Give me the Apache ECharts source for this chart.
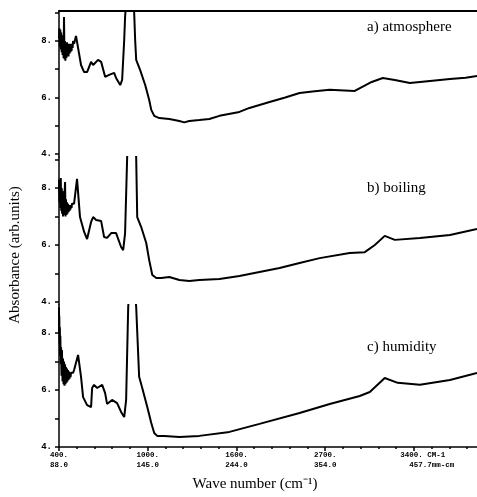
<!DOCTYPE html>
<html>
<head>
<meta charset="utf-8">
<script src="https://cdn.jsdelivr.net/npm/echarts@6/dist/echarts.min.js"></script>
<style>
html, body { margin: 0; padding: 0; background: #fff; }
#chart { width: 477px; height: 497px; }
</style>
</head>
<body>
<div id="chart"></div>
<script>
// [wave number, absorbance]
const atmosphere = [
  [400, 8.1], [403, 8.45], [406, 7.8], [409, 8.4], [412, 7.7], [415, 8.3], [418, 7.6], [421, 8.2],
  [424, 7.5], [427, 8.1], [431, 7.4], [434, 8.85], [437, 7.35], [440, 8.0], [443, 7.3], [447, 7.9],
  [450, 7.4], [454, 7.95], [457, 7.5], [461, 7.9], [464, 7.45], [468, 7.85], [471, 7.55], [475, 7.9],
  [478, 7.6], [481, 7.85], [485, 7.65], [488, 7.9], [492, 7.75], [495, 8.0], [502, 7.9],
  [515, 8.18], [549, 7.15], [570, 6.9], [590, 6.9], [617, 7.26], [631, 7.15], [664, 7.33], [685, 7.26],
  [712, 6.73], [739, 6.8], [773, 6.87], [786, 6.69], [814, 6.44], [827, 6.62], [841, 8.04], [847, 8.85],
  [875, 11], [908, 9.06], [915, 8.04], [922, 7.33], [949, 6.97], [983, 6.44], [1010, 5.91], [1024, 5.56],
  [1044, 5.35], [1078, 5.27], [1146, 5.24], [1214, 5.17], [1247, 5.12], [1281, 5.17], [1349, 5.2],
  [1417, 5.24], [1485, 5.35], [1620, 5.49], [1688, 5.63], [1824, 5.84], [1930, 6.0], [2027, 6.16],
  [2130, 6.22], [2231, 6.27], [2330, 6.25], [2400, 6.23], [2448, 6.37], [2515, 6.55], [2590, 6.69],
  [2671, 6.62], [2773, 6.51], [2909, 6.58], [3044, 6.65], [3150, 6.7], [3227, 6.76]
];
const boiling = [
  [400, 8.3], [403, 7.5], [406, 8.2], [409, 7.3], [412, 8.35], [415, 7.2], [418, 8.0], [421, 7.1],
  [424, 7.9], [427, 7.0], [431, 7.8], [434, 7.05], [437, 7.7], [441, 8.21], [444, 7.0], [447, 7.6],
  [451, 7.05], [454, 7.5], [457, 7.1], [461, 7.45], [464, 7.15], [468, 7.4], [471, 7.2], [475, 7.4],
  [478, 7.25], [481, 7.4], [485, 7.3], [488, 7.45], [495, 7.5], [502, 7.45],
  [522, 8.32], [542, 6.98], [570, 6.46], [590, 6.21], [603, 6.18], [617, 6.81], [631, 6.98], [651, 6.88],
  [685, 6.84], [705, 6.28], [725, 6.25], [753, 6.42], [786, 6.42], [820, 5.93], [834, 5.82], [847, 6.42],
  [861, 9.09], [888, 11], [922, 9.09], [929, 6.98], [956, 6.63], [990, 6.07], [1010, 5.47], [1031, 4.95],
  [1058, 4.84], [1092, 4.84], [1146, 4.88], [1214, 4.77], [1281, 4.74], [1349, 4.77], [1485, 4.81],
  [1620, 4.91], [1756, 5.05], [1892, 5.19], [2027, 5.37], [2163, 5.54], [2366, 5.72], [2468, 5.75],
  [2536, 6.0], [2603, 6.32], [2671, 6.18], [2841, 6.25], [3044, 6.35], [3227, 6.56]
];
const humidity = [
  [400, 8.9], [401, 8.0], [402, 8.6], [404, 7.6], [406, 8.2], [407, 7.2], [409, 7.9], [412, 6.9],
  [414, 7.5], [417, 6.5], [420, 7.4], [424, 6.3], [427, 7.1], [431, 6.2], [434, 7.0], [437, 6.15],
  [441, 6.9], [444, 6.2], [447, 6.8], [451, 6.25], [454, 6.75], [457, 6.3], [461, 6.7], [464, 6.35],
  [468, 6.65], [471, 6.4], [475, 6.6], [478, 6.45], [481, 6.6], [488, 6.55], [495, 6.6], [502, 6.7],
  [529, 7.23], [549, 6.46], [563, 5.75], [590, 5.47], [617, 5.4], [624, 6.07], [637, 6.18],
  [658, 6.07], [692, 6.18], [712, 5.89], [725, 5.51], [759, 5.65], [793, 5.54], [820, 5.23], [841, 5.05],
  [854, 5.65], [868, 8.91], [895, 11], [922, 8.91], [942, 6.46], [963, 6.07], [997, 5.4], [1024, 4.84],
  [1044, 4.49], [1064, 4.39], [1112, 4.39], [1214, 4.35], [1349, 4.39], [1553, 4.53], [1756, 4.81],
  [2027, 5.19], [2231, 5.51], [2434, 5.79], [2502, 5.93], [2603, 6.42], [2691, 6.25], [2841, 6.18],
  [3044, 6.35], [3227, 6.6]
];

const panelNames = ['a) atmosphere', 'b) boiling', 'c) humidity'];
const xTicks = [400, 1000, 1600, 2200, 2800];
const xTickTop = ['400.', '1000.', '1600.', '2700.', '    3400. CM-1'];
const xTickBottom = ['88.0', '145.0', '244.0', '354.0', '        457.7mm-cm'];
const yTicks = [4, 5, 6, 7, 8, 9];
const yLabels = [4, 6, 8];
const yRanges = [[3.894, 9.06], [3.895, 9.088], [4, 8.98]];

const spectra = [atmosphere, boiling, humidity];
const tops = [11, 157, 305];
const heights = [146, 148, 142];
const labelTops = [20, 181, 340];
const xMin = 400, xMax = 3227;

const chart = echarts.init(document.getElementById('chart'));

const grids = tops.map((t, i) => ({ left: 59, right: 0, top: t, height: heights[i], outerBoundsMode: 'none' }));

const xAxes = spectra.map((s, i) => ({
  type: 'value',
  gridIndex: i,
  min: xMin,
  max: xMax,
  interval: 600,
  show: i === 2,
  axisLine: { lineStyle: { color: '#000', width: 1.5 } },
  axisTick: { customValues: xTicks, length: 4, lineStyle: { color: '#000', width: 1.5 } },
  minorTick: { show: true, splitNumber: 5, length: 2, lineStyle: { color: '#000', width: 1.5 } },
  splitLine: { show: false },
  axisLabel: {
    customValues: xTicks,
    margin: 3,
    fontFamily: 'Liberation Mono',
    fontWeight: 'bold',
    fontSize: 7.5,
    lineHeight: 10,
    color: '#000',
    formatter: (v) => {
      const k = xTicks.indexOf(v);
      return k < 0 ? '' : xTickTop[k] + '\n' + xTickBottom[k];
    }
  }
}));
// top frame line of the first panel
xAxes.push({
  type: 'value', gridIndex: 0, position: 'top', min: xMin, max: xMax,
  axisLine: { lineStyle: { color: '#000', width: 2 } },
  axisTick: { show: false }, axisLabel: { show: false }, splitLine: { show: false }
});

const yAxes = yRanges.map((r, i) => ({
  type: 'value',
  gridIndex: i,
  min: r[0],
  max: r[1],
  axisLine: { show: true, lineStyle: { color: '#000', width: 1.5 } },
  axisTick: { show: true, customValues: yTicks, length: 4, lineStyle: { color: '#000', width: 1.5 } },
  splitLine: { show: false },
  axisLabel: {
    customValues: yLabels,
    margin: 7,
    fontFamily: 'Liberation Mono',
    fontWeight: 'bold',
    fontSize: 9,
    color: '#000',
    formatter: (v) => v + '.'
  }
}));

chart.setOption({
  animation: false,
  backgroundColor: '#fff',
  grid: grids,
  xAxis: xAxes,
  yAxis: yAxes,
  title: panelNames.map((n, i) => ({
    text: n,
    left: 367,
    top: labelTops[i],
    padding: 0,
    textStyle: { fontFamily: 'Liberation Serif', fontSize: 15, fontWeight: 'normal', color: '#000' }
  })),
  graphic: [
    {
      type: 'text', x: 15, y: 255, rotation: Math.PI / 2,
      style: { text: 'Absorbance (arb.units)', font: '15px "Liberation Serif"', fill: '#000', align: 'center', verticalAlign: 'middle' }
    },
    {
      type: 'text', x: 255, y: 484,
      style: { text: 'Wave number (cm⁻¹)', font: '15px "Liberation Serif"', fill: '#000', align: 'center', verticalAlign: 'middle' }
    }
  ],
  series: spectra.map((s, i) => ({
    type: 'line',
    name: panelNames[i],
    xAxisIndex: i,
    yAxisIndex: i,
    data: s,
    showSymbol: false,
    clip: true,
    lineStyle: { color: '#000', width: 2 }
  }))
});

window.addEventListener('resize', function () {
  chart && chart.resize();
});
</script>
</body>
</html>
